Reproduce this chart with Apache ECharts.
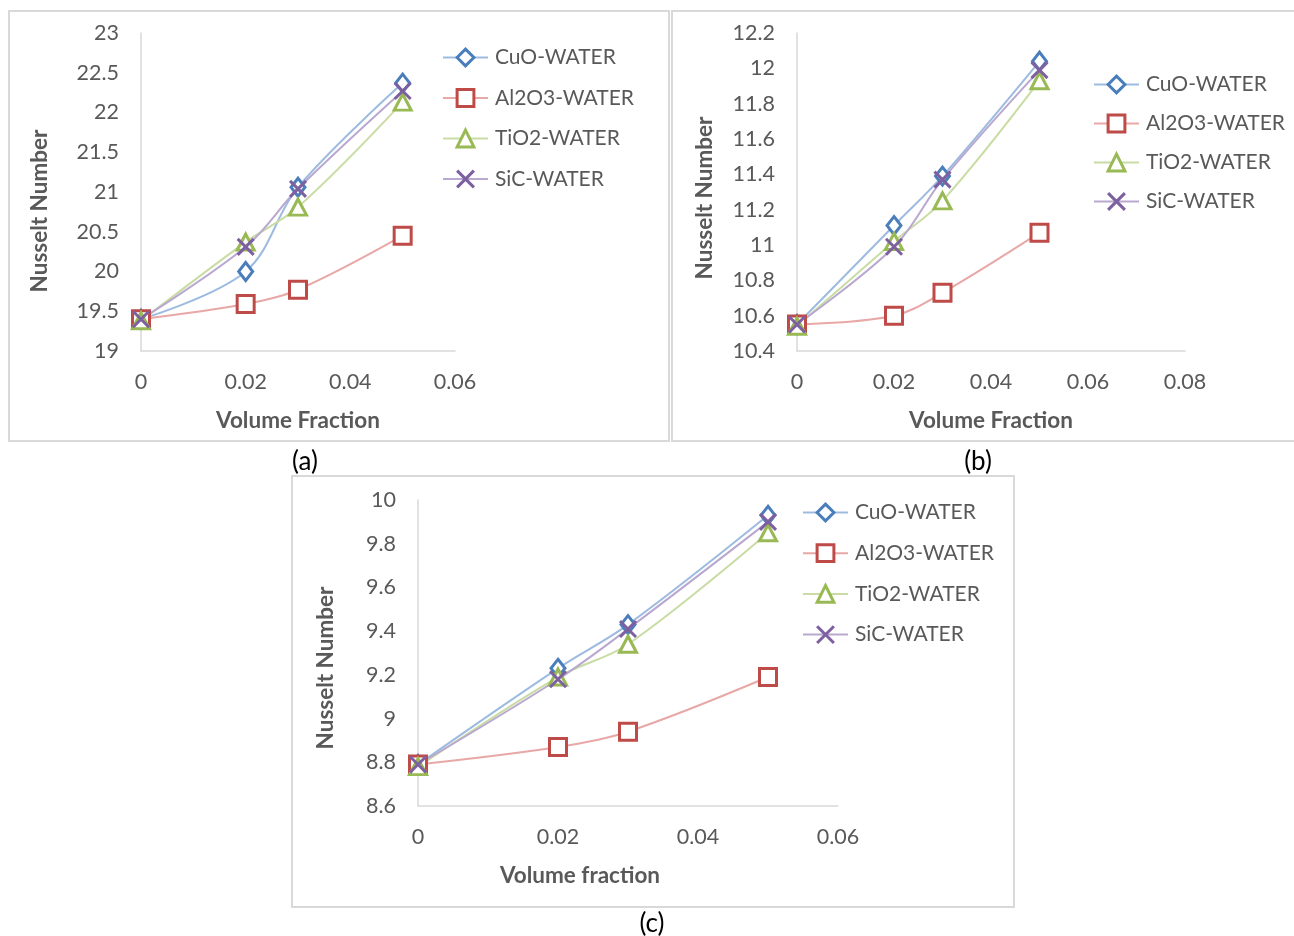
<!DOCTYPE html>
<html>
<head>
<meta charset="utf-8">
<script src="https://cdn.jsdelivr.net/npm/echarts@6/dist/echarts.min.js"></script>
<style>
  html, body { margin: 0; padding: 0; background: #fff; }
  #main { width: 1294px; height: 936px; }
</style>
</head>
<body>
<div id="main"></div>
<script>
// volume fraction (shared x values)
var fractions = [0, 0.02, 0.03, 0.05];
var names = ['CuO-WATER', 'Al2O3-WATER', 'TiO2-WATER', 'SiC-WATER'];

// panel (a)
var aCuO   = [19.40, 20.00, 21.06, 22.37];
var aAl2O3 = [19.40, 19.59, 19.77, 20.45];
var aTiO2  = [19.38, 20.37, 20.81, 22.13];
var aSiC   = [19.40, 20.31, 21.04, 22.27];

// panel (b)
var bCuO   = [10.55, 11.11, 11.39, 12.04];
var bAl2O3 = [10.55, 10.60, 10.73, 11.07];
var bTiO2  = [10.54, 11.02, 11.25, 11.93];
var bSiC   = [10.55, 10.99, 11.37, 11.99];

// panel (c)
var cCuO   = [8.79, 9.23, 9.43, 9.93];
var cAl2O3 = [8.79, 8.87, 8.94, 9.19];
var cTiO2  = [8.78, 9.19, 9.34, 9.85];
var cSiC   = [8.79, 9.18, 9.41, 9.90];

var markColors = ['#4A7EBB', '#BE4B48', '#98B954', '#7D60A0'];
var lineColors = ['#9DBBE0', '#E8A8A7', '#C8DCA3', '#B9A8CF'];
var fills = ['#fff', '#fff', '#fff', '#7D60A0'];
var symbols = ['diamond', 'rect', 'triangle', 'path://M0,0L10,10M10,0L0,10'];
var symbolSizes = [[14, 18], 17, [17, 16], 16];

var FONT = 'Lato, sans-serif';
var GREY = '#595959';

function pairs(vals) {
    return fractions.map(function (x, i) { return [x, vals[i]]; });
}

function makeSeries(idx, sets) {
    return sets.map(function (vals, k) {
        return {
            name: names[k],
            type: 'line',
            xAxisIndex: idx,
            yAxisIndex: idx,
            data: pairs(vals),
            smooth: 0.35,
            symbol: symbols[k],
            symbolSize: symbolSizes[k],
            showAllSymbol: true,
            lineStyle: { color: lineColors[k], width: 2 },
            itemStyle: { color: fills[k], borderColor: markColors[k], borderWidth: 3 },
            emphasis: { disabled: true }
        };
    });
}

function xAxisFor(idx, max, title, pad) {
    return {
        type: 'value', gridIndex: idx, min: 0, max: max, interval: 0.02,
        name: title, nameLocation: 'middle', nameGap: 58,
        nameTextStyle: { fontFamily: FONT, fontSize: 22.5, fontWeight: 'bold', color: GREY, padding: pad || 0 },
        axisLine: { show: true, lineStyle: { color: '#D9D9D9', width: 1.5 } },
        axisTick: { show: false },
        splitLine: { show: false },
        axisLabel: { margin: 20, fontFamily: FONT, fontSize: 21.5, color: GREY }
    };
}

function yAxisFor(idx, min, max, step, gap, pad) {
    return {
        type: 'value', gridIndex: idx, min: min, max: max, interval: step,
        name: 'Nusselt Number', nameLocation: 'middle', nameGap: gap,
        nameTextStyle: { fontFamily: FONT, fontSize: 22.5, fontWeight: 'bold', color: GREY, padding: pad },
        axisLine: { show: true, lineStyle: { color: '#D9D9D9', width: 1.5 } },
        axisTick: { show: false },
        splitLine: { show: false },
        axisLabel: { margin: 22, fontFamily: FONT, fontSize: 21.5, color: GREY }
    };
}

function legendFor(left, top, gap) {
    return {
        orient: 'vertical', left: left, top: top, itemGap: gap,
        itemWidth: 45, itemHeight: 21,
        data: names,
        selectedMode: false,
        itemStyle: { borderWidth: 3 },
        textStyle: { fontFamily: FONT, fontSize: 21, color: GREY, padding: [0, 0, 0, 2] }
    };
}

var chart = echarts.init(document.getElementById('main'));

var option = {
    backgroundColor: '#fff',
    animation: false,
    grid: [
        { left: 141, top: 33, width: 314, height: 318 },
        { left: 797, top: 33, width: 388, height: 318 },
        { left: 418, top: 500, width: 420, height: 306 }
    ],
    xAxis: [
        xAxisFor(0, 0.06, 'Volume Fraction'),
        xAxisFor(1, 0.08, 'Volume Fraction'),
        xAxisFor(2, 0.06, 'Volume fraction', [0, 96, 0, 0])
    ],
    yAxis: [
        yAxisFor(0, 19, 23, 0.5, 90, [0, 38, 0, 0]),
        yAxisFor(1, 10.4, 12.2, 0.2, 81, [0, 12, 0, 0]),
        yAxisFor(2, 8.6, 10, 0.2, 81, [0, 30, 0, 0])
    ],
    legend: [
        legendFor(437, 42, 19.5),
        legendFor(1088, 69, 18),
        legendFor(797, 497, 19.7)
    ],
    series: [].concat(
        makeSeries(0, [aCuO, aAl2O3, aTiO2, aSiC]),
        makeSeries(1, [bCuO, bAl2O3, bTiO2, bSiC]),
        makeSeries(2, [cCuO, cAl2O3, cTiO2, cSiC])
    ),
    graphic: [
        { type: 'rect', shape: { x: 9, y: 11, width: 660, height: 430 }, style: { fill: 'none', stroke: '#D9D9D9', lineWidth: 2 }, silent: true },
        { type: 'rect', shape: { x: 672, y: 11, width: 630, height: 430 }, style: { fill: 'none', stroke: '#D9D9D9', lineWidth: 2 }, silent: true },
        { type: 'rect', shape: { x: 292, y: 476, width: 722, height: 431 }, style: { fill: 'none', stroke: '#D9D9D9', lineWidth: 2 }, silent: true },
        { type: 'text', x: 305, y: 462, style: { text: '(a)', fontFamily: FONT, fontSize: 26, fill: '#000', align: 'center', verticalAlign: 'middle' } },
        { type: 'text', x: 978, y: 462, style: { text: '(b)', fontFamily: FONT, fontSize: 26, fill: '#000', align: 'center', verticalAlign: 'middle' } },
        { type: 'text', x: 652, y: 924, style: { text: '(c)', fontFamily: FONT, fontSize: 26, fill: '#000', align: 'center', verticalAlign: 'middle' } }
    ]
};

chart.setOption(option);
</script>
</body>
</html>
